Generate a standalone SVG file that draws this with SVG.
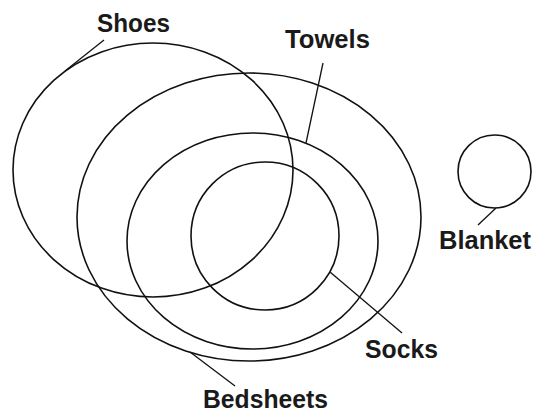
<svg xmlns="http://www.w3.org/2000/svg" width="534" height="414" viewBox="0 0 534 414">
<style>
.set{fill:none;stroke:#111;stroke-width:1.6}
.lead{fill:none;stroke:#111;stroke-width:1.3}
.lbl{font-family:"Liberation Sans",Arial,sans-serif;font-weight:bold;font-size:25px;fill:#1a1a1a}
</style>
<rect width="534" height="414" fill="#fff"/>
<g id="shoes">
<ellipse class="set" cx="153" cy="170" rx="140" ry="127"/>
<text class="lbl" x="97" y="32" textLength="73" lengthAdjust="spacingAndGlyphs">Shoes</text>
</g>
<g id="bedsheets">
<ellipse class="set" cx="249" cy="217" rx="172" ry="144"/>
<text class="lbl" x="203" y="408" textLength="125" lengthAdjust="spacingAndGlyphs">Bedsheets</text>
</g>
<g id="towels">
<ellipse class="set" cx="252.5" cy="241" rx="125.5" ry="108"/>
<text class="lbl" x="285" y="48" textLength="85" lengthAdjust="spacingAndGlyphs">Towels</text>
</g>
<g id="socks">
<circle class="set" cx="265" cy="236" r="74"/>
<text class="lbl" x="365" y="358" textLength="73" lengthAdjust="spacingAndGlyphs">Socks</text>
</g>
<g id="blanket">
<circle class="set" cx="494.5" cy="171.5" r="36.5"/>
<text class="lbl" x="439" y="249" textLength="92" lengthAdjust="spacingAndGlyphs">Blanket</text>
</g>
<g id="connectors">
<line class="lead" x1="104" y1="40" x2="65" y2="71"/>
<line class="lead" x1="323" y1="63" x2="306" y2="143"/>
<line class="lead" x1="330" y1="272" x2="402" y2="333"/>
<line class="lead" x1="190" y1="352" x2="235" y2="386"/>
<line class="lead" x1="496" y1="208" x2="478" y2="225"/>
</g>
</svg>
